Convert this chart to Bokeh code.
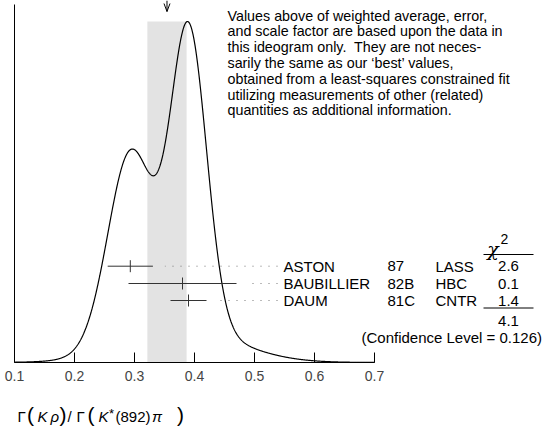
import numpy as np
from bokeh.plotting import figure
from bokeh.models import Range1d, LinearAxis, FixedTicker
from bokeh.core.properties import value
from bokeh.embed import file_html
from bokeh.resources import INLINE

# ---------------- data ----------------
authors = ["ASTON", "BAUBILLIER", "DAUM"]
years = ["87", "82B", "81C"]
techniques = ["LASS", "HBC", "CNTR"]
values = [0.293, 0.38, 0.39]
errors = [0.0377, 0.09, 0.03]
chi2 = [2.6, 0.1, 1.4]
chi2_total = 4.1
confidence_level = 0.126
x_ticks = [0.1, 0.2, 0.3, 0.4, 0.5, 0.6, 0.7]
note_lines = [
    "Values above of weighted average, error,",
    "and scale factor are based upon the data in",
    "this ideogram only.\u00a0 They are not neces-",
    "sarily the same as our \u2018best\u2019 values,",
    "obtained from a least-squares constrained fit",
    "utilizing measurements of other (related)",
    "quantities as additional information.",
]

# ---------------- derived ----------------
v = np.array(values)
e = np.array(errors)
w = 1.0 / e**2
avg = float(np.sum(w * v) / np.sum(w))
chi2_sum = float(np.sum(w * (v - avg) ** 2))
scale = max(1.0, np.sqrt(chi2_sum / (len(v) - 1)))
err_avg = float(np.sqrt(1.0 / np.sum(w)) * scale)

xs = np.linspace(0.1, 0.7, 1201)
ys = np.zeros_like(xs)
for vi, ei in zip(v, e):
    ys += (1.0 / ei**2) * np.exp(-0.5 * ((xs - vi) / ei) ** 2)
ys /= ys.max()

# ---------------- geometry (page pixels -> data) ----------------
W, H = 546, 429
PX_X0, PX_PER_X = 14.0, 600.0
PX_Y0, PX_PER_Y = 362.0, 341.0


def xd(px):
    return 0.1 + (px - PX_X0) / PX_PER_X


def yd(py):
    return (PX_Y0 - py) / PX_PER_Y


FONT = value("Liberation Sans")

p = figure(
    width=W, height=H,
    x_range=Range1d(xd(0), xd(W)), y_range=Range1d(yd(H), yd(0)),
    output_backend="svg", toolbar_location=None,
    x_axis_type=None, y_axis_type=None,
    min_border=0, outline_line_color=None,
)

# shaded band of weighted average
p.quad(left=[avg - err_avg], right=[avg + err_avg], bottom=[0], top=[1.0],
       fill_color="#e3e3e3", line_color=None)

# x axis
ax = LinearAxis(
    fixed_location=0, bounds=(0.1, 0.7),
    ticker=FixedTicker(ticks=x_ticks, minor_ticks=[]),
    major_tick_in=10, major_tick_out=0, minor_tick_in=0, minor_tick_out=0,
    major_label_text_font="Liberation Sans", major_label_text_font_size="14px",
    major_label_standoff=8, axis_line_color="black", major_tick_line_color="black",
)
p.add_layout(ax, "below")

# left vertical line
p.segment(x0=[0.1], y0=[0], x1=[0.1], y1=[yd(4)], line_color="black", line_width=1)

# ideogram curve
p.line(xs, ys, line_color="black", line_width=1.2)

# arrow at weighted average
p.segment(x0=[avg], y0=[yd(0)], x1=[avg], y1=[yd(11)], line_color="black", line_width=1)
p.segment(x0=[avg - 3 / PX_PER_X, avg + 3 / PX_PER_X], y0=[yd(3), yd(3)],
          x1=[avg, avg], y1=[yd(11), yd(11)], line_color="black", line_width=1)

# measurements
rows = [265.7, 283.0, 300.0]
tick_h = 6 / PX_PER_Y
for i in range(len(values)):
    y = yd(rows[i])
    p.segment(x0=[values[i] - errors[i]], y0=[y], x1=[values[i] + errors[i]], y1=[y],
              line_color="#333333", line_width=1)
    p.segment(x0=[values[i]], y0=[y - tick_h], x1=[values[i]], y1=[y + tick_h],
              line_color="#333333", line_width=1)
    start = values[i] + errors[i] + 12 / PX_PER_X
    p.line([xd(277), start], [y, y], line_color="#777777", line_width=1, line_dash="1 7")

p.text(x=[xd(283)] * 3, y=[yd(r) for r in rows], text=authors, text_font=FONT,
       text_font_size="15px", text_baseline="middle", text_align="left", text_color="black")
p.text(x=[xd(387)] * 3, y=[yd(r) for r in rows], text=years, text_font=FONT,
       text_font_size="15px", text_baseline="middle", text_align="left", text_color="black")
p.text(x=[xd(435)] * 3, y=[yd(r) for r in rows], text=techniques, text_font=FONT,
       text_font_size="15px", text_baseline="middle", text_align="left", text_color="black")
p.text(x=[xd(508)] * 3, y=[yd(r) for r in rows], text=[f"{c:.1f}" for c in chi2], text_font=FONT,
       text_font_size="15px", text_baseline="middle", text_align="center", text_color="black")

# chi^2 header and rules
p.text(x=[xd(492.5)], y=[yd(248)], text=["\u03c7"], text_font=value("DejaVu Serif"),
       text_font_style="italic", text_font_size="19px", text_baseline="alphabetic",
       text_align="center", text_color="black")
p.text(x=[xd(504)], y=[yd(238)], text=["2"], text_font=FONT, text_font_size="14px",
       text_baseline="middle", text_align="center", text_color="black")
p.segment(x0=[xd(483), xd(483)], y0=[yd(254), yd(307.5)], x1=[xd(533), xd(533)],
          y1=[yd(254), yd(307.5)], line_color="black", line_width=1)
p.text(x=[xd(508)], y=[yd(320)], text=[f"{chi2_total:.1f}"], text_font=FONT,
       text_font_size="15px", text_baseline="middle", text_align="center", text_color="black")
p.text(x=[xd(541.5)], y=[yd(337.3)], text=[f"(Confidence Level = {confidence_level})"],
       text_font=FONT, text_font_size="15px", text_baseline="middle", text_align="right",
       text_color="black")

# note
p.text(x=[xd(227)] * len(note_lines), y=[yd(15 + 15.8 * i) for i in range(len(note_lines))],
       text=note_lines, text_font=FONT, text_font_size="14.3px", text_baseline="middle",
       text_align="left", text_color="black")

# axis label  Γ(K ρ)/Γ(K*(892) π)
pieces = [
    ("\u0393", 17, "15px", "normal", 416, "left"),
    ("(", 30, "21px", "normal", 413.5, "center"),
    ("K", 37, "15px", "italic", 416, "left"),
    ("\u03c1", 50, "15px", "italic", 416, "left"),
    (")", 62.5, "21px", "normal", 413.5, "center"),
    ("/", 67, "15px", "normal", 416, "left"),
    ("\u0393", 76, "15px", "normal", 416, "left"),
    ("(", 90.5, "21px", "normal", 413.5, "center"),
    ("K", 98, "15px", "italic", 416, "left"),
    ("*", 108.5, "13px", "normal", 413, "left"),
    ("(892)", 115, "15px", "normal", 416, "left"),
    ("\u03c0", 151.5, "15px", "italic", 416, "left"),
    (")", 180, "21px", "normal", 413.5, "center"),
]
for t, px, fs, st, base, al in pieces:
    bl = "middle" if al == "center" else "alphabetic"
    p.text(x=[xd(px)], y=[yd(base)], text=[t], text_font=FONT, text_font_size=fs,
           text_font_style=st, text_baseline=bl, text_align=al, text_color="black")

open("out.html", "w").write(file_html(p, INLINE))
